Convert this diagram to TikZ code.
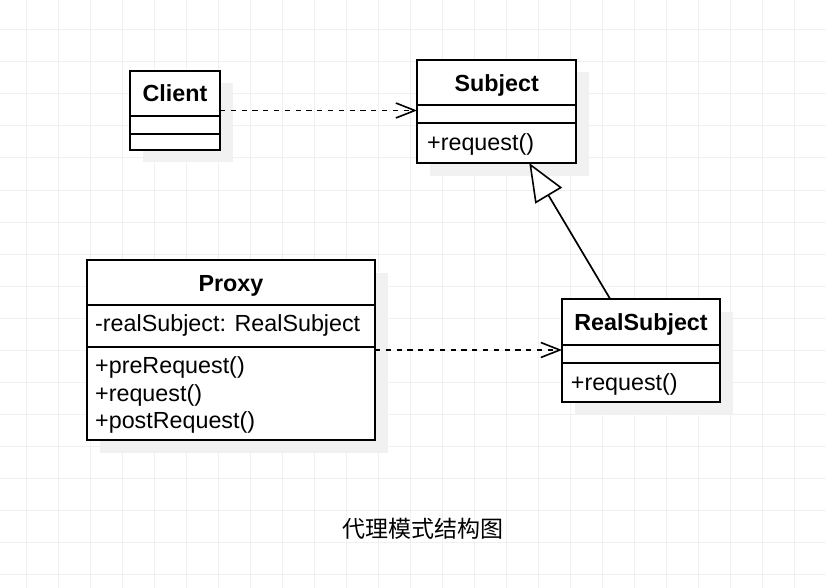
\documentclass[tikz,border=0pt]{standalone}
\usepackage{fontspec}
\setmainfont{Liberation Sans}
\newfontfamily\cjkfont{Noto Sans CJK SC}
\usetikzlibrary{arrows.meta,calc,shadows}
\definecolor{gridc}{HTML}{F0F0F0}
\definecolor{shadowc}{HTML}{F1F1F1}
\tikzset{
  classbox/.style={draw=black, line width=1.7pt, fill=white, rectangle, inner sep=0pt, outer sep=0pt, anchor=north west,
    drop shadow={shadow xshift=12.5pt, shadow yshift=-12.5pt, opacity=1, fill=shadowc}},
  sepline/.style={draw=black, line width=1.7pt},
  titletext/.style={font=\fontsize{23.3}{28}\selectfont\bfseries, inner sep=0pt, anchor=base},
  membertext/.style={font=\fontsize{23.3}{28}\selectfont, inner sep=0pt, anchor=base west},
  dep/.style={draw=black, line width=1.7pt, dash pattern=on 5.2pt off 5.6pt, -{Straight Barb[length=19pt,width=15pt,line width=1.6pt]}},
  gen/.style={draw=black, line width=1.7pt, -{Triangle[length=38pt,width=31pt,fill=white,line width=1.6pt]}},
  gridline/.style={draw=gridc, line width=1pt}
}
\begin{document}
\begin{tikzpicture}[x=1pt,y=-1pt]
\useasboundingbox (0,0) rectangle (826,588);
\fill[white] (0,0) rectangle (826,588);
% grid
\foreach \i in {0,...,25} { \draw[gridline] (26.7+32*\i,0) -- (26.7+32*\i,588); }
\foreach \j in {0,...,17} { \draw[gridline] (0,30+32*\j) -- (826,30+32*\j); }

% Client
\node[classbox, minimum width=90pt, minimum height=79pt] (client) at (130,71) {};
\draw[sepline] (client.west |- 0,116) -- (client.east |- 0,116);
\draw[sepline] (client.west |- 0,134) -- (client.east |- 0,134);
\node[titletext] (clientt) at (175,101.7) {Client};

% Subject
\node[classbox, minimum width=159pt, minimum height=103pt] (subject) at (417,60) {};
\draw[sepline] (subject.west |- 0,105) -- (subject.east |- 0,105);
\draw[sepline] (subject.west |- 0,123) -- (subject.east |- 0,123);
\node[titletext] (subjectt) at (496.7,91.5) {Subject};
\node[membertext] (subjectm) at (427,150) {+request()};

% Proxy
\node[classbox, minimum width=288pt, minimum height=180pt] (proxy) at (87,260) {};
\draw[sepline] (proxy.west |- 0,305) -- (proxy.east |- 0,305);
\draw[sepline] (proxy.west |- 0,347) -- (proxy.east |- 0,347);
\node[titletext] (proxyt) at (231,291.7) {Proxy};
\node[membertext] (proxya) at (95,331.5) {-realSubject: RealSubject};
\node[membertext] (proxym1) at (95,373.3) {+preRequest()};
\node[membertext] (proxym2) at (95,401) {+request()};
\node[membertext] (proxym3) at (95,428.8) {+postRequest()};

% RealSubject
\node[classbox, minimum width=158pt, minimum height=103pt] (real) at (562,299) {};
\draw[sepline] (real.west |- 0,345) -- (real.east |- 0,345);
\draw[sepline] (real.west |- 0,363) -- (real.east |- 0,363);
\node[titletext] (realt) at (641,330) {RealSubject};
\node[membertext] (realm) at (570.7,390) {+request()};

% connectors
\draw[dep] (client.east) -- (client.east -| subject.west);
\draw[dep] (proxy.east) -- (proxy.east -| real.west);
\coordinate (genstart) at ($(real.north west)!0.305!(real.north east)$);
\coordinate (genend) at ($(subject.south west)!0.706!(subject.south east)$);
\draw[gen] (genstart) -- (genend);

% caption
\node[font=\cjkfont\fontsize{23}{27.6}\selectfont, inner sep=0pt, anchor=base] (caption) at (422.5,537.5) {代理模式结构图};
\end{tikzpicture}
\end{document}
